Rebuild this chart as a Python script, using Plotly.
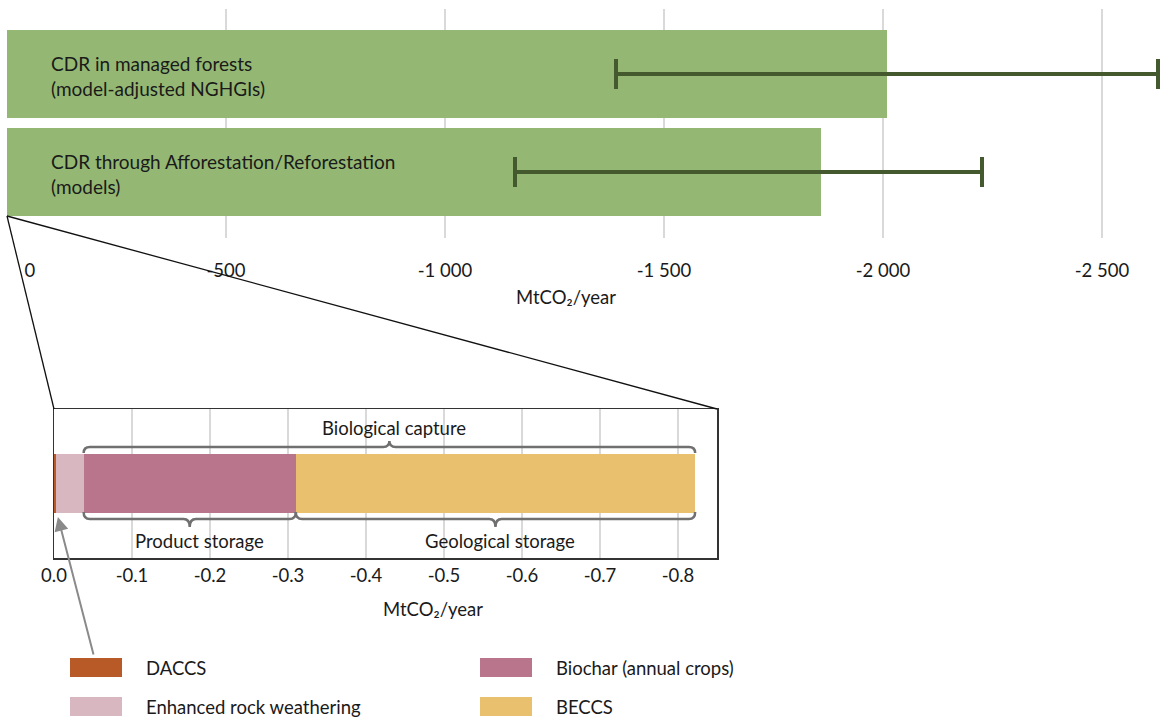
import plotly.graph_objects as go

W, H = 1170, 719

# ---------------- data ----------------
top_labels = ["CDR in managed forests<br>(model-adjusted NGHGIs)",
              "CDR through Afforestation/Reforestation<br>(models)"]
top_values = [-2010, -1858]
top_range_low = [-1390, -1160]    # less negative end of the range
top_range_high = [-2628, -2226]   # more negative end of the range
top_tick_vals = [0, -500, -1000, -1500, -2000, -2500]
top_tick_text = ["0", "-500", "-1 000", "-1 500", "-2 000", "-2 500"]

cdr_names = ["DACCS", "Enhanced rock weathering", "Biochar (annual crops)", "BECCS"]
cdr_values = [-0.003, -0.035, -0.272, -0.512]
cdr_colors = ["#b85a27", "#d8b7c1", "#b9758c", "#e9c06e"]
inset_tick_vals = [0, -0.1, -0.2, -0.3, -0.4, -0.5, -0.6, -0.7, -0.8]
inset_tick_text = ["0.0", "-0.1", "-0.2", "-0.3", "-0.4", "-0.5", "-0.6", "-0.7", "-0.8"]

unit_label = "MtCO₂/year"
brace_labels = ["Biological capture", "Product storage", "Geological storage"]

FONT = "Lato, 'Open Sans', sans-serif"
FS = 18.5
TXT = "#1a1a1a"
GREEN = "#94b873"
DARKGREEN = "#45592f"
GRID = "#d9d9d9"
BRACE = "#707070"

def px_x(p):
    return p / W

def px_y(p):
    return 1 - p / H

fig = go.Figure()

# ---------------- top chart ----------------
err_plus = [lo - v for lo, v in zip(top_range_low, top_values)]
err_minus = [v - hi for hi, v in zip(top_range_high, top_values)]
fig.add_trace(go.Bar(
    x=top_values, y=[0, 1], orientation="h", width=0.898,
    marker=dict(color=GREEN, line=dict(width=0)),
    error_x=dict(type="data", symmetric=False, array=err_plus, arrayminus=err_minus,
                 color=DARKGREEN, thickness=3.5, width=15),
    xaxis="x", yaxis="y", showlegend=False, hoverinfo="skip",
))
# invisible helper trace so the overlay axis carrying the "0" label is drawn
fig.add_trace(go.Scatter(x=[0], y=[0], xaxis="x3", yaxis="y",
                         mode="markers", marker=dict(opacity=0, size=1),
                         showlegend=False, hoverinfo="skip"))

for i, lab in enumerate(top_labels):
    fig.add_annotation(x=-96, y=i, xref="x", yref="y", text=lab, showarrow=False,
                       xanchor="left", yanchor="middle", align="left", yshift=-2,
                       font=dict(family=FONT, size=19, color=TXT))

# ---------------- inset chart ----------------
for name, val, col in zip(cdr_names, cdr_values, cdr_colors):
    fig.add_trace(go.Bar(
        x=[val], y=[0], orientation="h", width=0.4, name=name,
        marker=dict(color=col, line=dict(width=0)),
        xaxis="x2", yaxis="y2", showlegend=False, hoverinfo="skip",
    ))

# cumulative positions
cum = []
s = 0
for v in cdr_values:
    s += v
    cum.append(s)

def brace(xa, xb, yl, ye, yt, rx=0.008):
    d = 1 if xb > xa else -1
    xm = (xa + xb) / 2
    return (f"M {xa},{ye} Q {xa},{yl} {xa + d*rx},{yl} "
            f"L {xm - d*rx},{yl} Q {xm},{yl} {xm},{yt} "
            f"Q {xm},{yl} {xm + d*rx},{yl} "
            f"L {xb - d*rx},{yl} Q {xb},{yl} {xb},{ye}")

braces = [
    (cum[1], cum[3], 0.245, 0.205, 0.285),    # biological capture (top)
    (cum[1], cum[2], -0.238, -0.191, -0.292),  # product storage
    (cum[2], cum[3], -0.238, -0.191, -0.292),  # geological storage
]
label_y = [0.372, -0.386, -0.386]
label_dx = [-0.006, -0.013, -0.006]
for (xa, xb, yl, ye, yt), lab, ly, dx in zip(braces, brace_labels, label_y, label_dx):
    fig.add_shape(type="path", path=brace(xa, xb, yl, ye, yt), xref="x2", yref="y2",
                  line=dict(color=BRACE, width=2.5), layer="above")
    fig.add_annotation(x=(xa + xb) / 2 + dx, y=ly, xref="x2", yref="y2", text=lab,
                       showarrow=False, xanchor="center", yanchor="middle",
                       font=dict(family=FONT, size=FS, color=TXT))

# axis titles
fig.add_annotation(x=px_x(566), y=px_y(297), xref="paper", yref="paper", text=unit_label,
                   showarrow=False, font=dict(family=FONT, size=FS, color=TXT))
fig.add_annotation(x=px_x(381), y=px_y(622), xref="paper", yref="paper", text=unit_label,
                   showarrow=False, font=dict(family=FONT, size=FS, color=TXT))

# zoom lines from top bar corner to inset corners
for (x1, y1) in [(54, 409), (717, 409)]:
    fig.add_shape(type="line", xref="paper", yref="paper",
                  x0=px_x(7), y0=px_y(216), x1=px_x(x1), y1=px_y(y1),
                  line=dict(color="#111111", width=1.3))

# arrow to DACCS
fig.add_annotation(x=-0.005, y=-0.225, xref="x2", yref="y2", text="",
                   showarrow=True, ax=36, ay=139, arrowhead=2, arrowsize=1.4,
                   arrowwidth=2, arrowcolor="#8a8a8a")

# ---------------- legend (swatches) ----------------
legend_pos = [(70, 658), (70, 697), (480, 658), (480, 697)]
for (lx, ly), name, col in zip(legend_pos, cdr_names, cdr_colors):
    fig.add_shape(type="rect", xref="paper", yref="paper",
                  x0=px_x(lx), x1=px_x(lx + 52), y0=px_y(ly + 19), y1=px_y(ly),
                  fillcolor=col, line=dict(width=0))
    fig.add_annotation(x=px_x(lx + 74), y=px_y(ly + 10), xref="paper", yref="paper",
                       text=name, showarrow=False, xanchor="left", yanchor="middle",
                       font=dict(family=FONT, size=FS, color=TXT))

top_domain = [px_x(7), px_x(7 + 2650 * 0.438)]
fig.update_layout(
    width=W, height=H,
    margin=dict(l=0, r=0, t=0, b=0, pad=0, autoexpand=False),
    paper_bgcolor="white", plot_bgcolor="rgba(0,0,0,0)",
    barmode="relative", bargap=0,
    hovermode=False, showlegend=False,
    font=dict(family=FONT, size=FS, color=TXT),
    xaxis=dict(domain=top_domain, range=[0, -2650],
               tickvals=top_tick_vals,
               ticktext=[""] + top_tick_text[1:],
               showgrid=True, gridcolor=GRID, gridwidth=1.5, zeroline=False,
               showline=False, ticks="", ticklabelstandoff=19, automargin=False,
               tickfont=dict(family=FONT, size=FS, color=TXT), anchor="y"),
    # overlay axis carrying only the zero label, nudged right as in the original
    xaxis3=dict(overlaying="x", range=[0, -2650], anchor="y", domain=top_domain,
                tickvals=[-52], ticktext=top_tick_text[:1], ticklabelstandoff=19,
                showgrid=False, zeroline=False, showline=False, ticks="",
                automargin=False, side="bottom",
                tickfont=dict(family=FONT, size=FS, color=TXT)),
    yaxis=dict(domain=[px_y(238), px_y(9)], range=[1.673, -0.663], automargin=False,
               showticklabels=False, showgrid=False, zeroline=False, anchor="x"),
    xaxis2=dict(domain=[px_x(54), px_x(717)], range=[0, -0.85],
                tickvals=inset_tick_vals, ticktext=inset_tick_text,
                showgrid=True, gridcolor=GRID, gridwidth=1.5, zeroline=False,
                showline=True, mirror=True, linecolor="#333333", linewidth=1.5,
                ticks="", ticklabelstandoff=0, automargin=False,
                tickfont=dict(family=FONT, size=FS, color=TXT), anchor="y2"),
    yaxis2=dict(domain=[px_y(558), px_y(409)], range=[-0.5, 0.5], automargin=False,
                showticklabels=False, showgrid=False, zeroline=False,
                showline=True, mirror=True, linecolor="#333333", linewidth=1.5,
                anchor="x2"),
)

fig.write_html("out.html", config={"displayModeBar": False, "staticPlot": True},
               post_script="document.body.style.margin='0';document.body.style.overflow='hidden';")
